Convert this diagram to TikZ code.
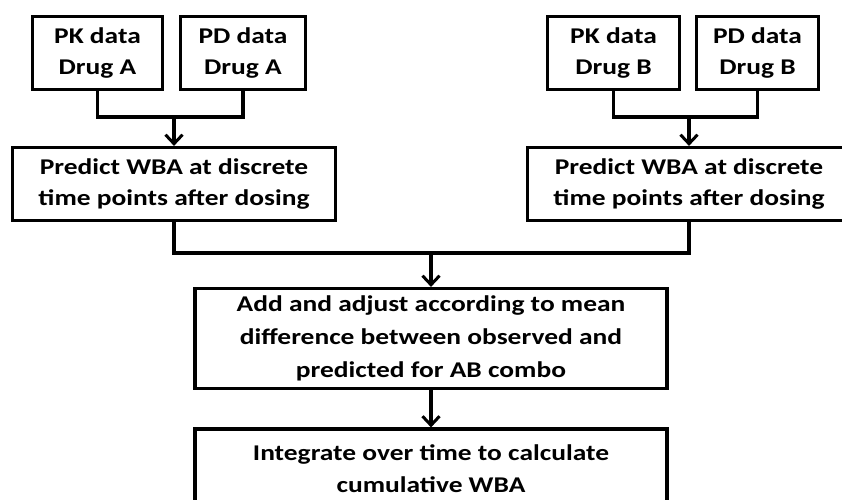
\documentclass[tikz,border=0pt]{standalone}
\usepackage{fontspec}
\setmainfont{Carlito}
\newfontfamily\wideboxfont[FakeStretch=1.22]{Carlito}
\usetikzlibrary{arrows.meta}

\tikzset{
  box/.style={draw, line width=3.2pt, inner sep=0pt, align=center,
    font=\wideboxfont\fontsize{22.5}{30.5}\selectfont\bfseries},
  bigbox/.style={box, font=\wideboxfont\fontsize{22.5}{33}\selectfont\bfseries}
}

\begin{document}
\begin{tikzpicture}[x=1pt, y=-1pt, line width=3.2pt,
  >={Straight Barb[length=9pt,width=17pt,line width=3pt]}]
\useasboundingbox (0,0) rectangle (842,499);

% data boxes
\node[box, minimum width=130pt, minimum height=73pt] (pkA) at (97.5,53) {PK data\\Drug A};
\node[box, minimum width=125pt, minimum height=73pt] (pdA) at (243,53) {PD data\\Drug A};
\node[box, minimum width=132pt, minimum height=73pt] (pkB) at (613.5,53) {PK data\\Drug B};
\node[box, minimum width=122pt, minimum height=73pt] (pdB) at (757.5,53) {PD data\\Drug B};

% predictions
\node[box, minimum width=323pt, minimum height=73pt] (predA) at (174,184) {Predict WBA at discrete\\time points after dosing};
\node[box, minimum width=323pt, minimum height=73pt] (predB) at (689,184) {Predict WBA at discrete\\time points after dosing};

\node[bigbox, minimum width=472pt, minimum height=100pt] (adj) at (431,338.5)
  {Add and adjust according to mean\\difference between observed and\\predicted for AB combo};
\node[bigbox, minimum width=472pt, minimum height=80pt, font=\wideboxfont\fontsize{22.5}{32}\selectfont\bfseries] (integ) at (431,469)
  {Integrate over time to calculate\\cumulative WBA};

\coordinate (jA) at (174,117);
\coordinate (jB) at (689,117);
\coordinate (jM) at (431,253);

\draw (pkA.south) |- (jA) -| (pdA.south);
\draw[->] (jA) -- (predA.north);
\draw (pkB.south) |- (jB) -| (pdB.south);
\draw[->] (jB) -- (predB.north);

\draw (predA.south) |- (jM) -| (predB.south);
\draw[->] (jM) -- (adj.north);
\draw[->] (adj.south) -- (integ.north);
\end{tikzpicture}
\end{document}
